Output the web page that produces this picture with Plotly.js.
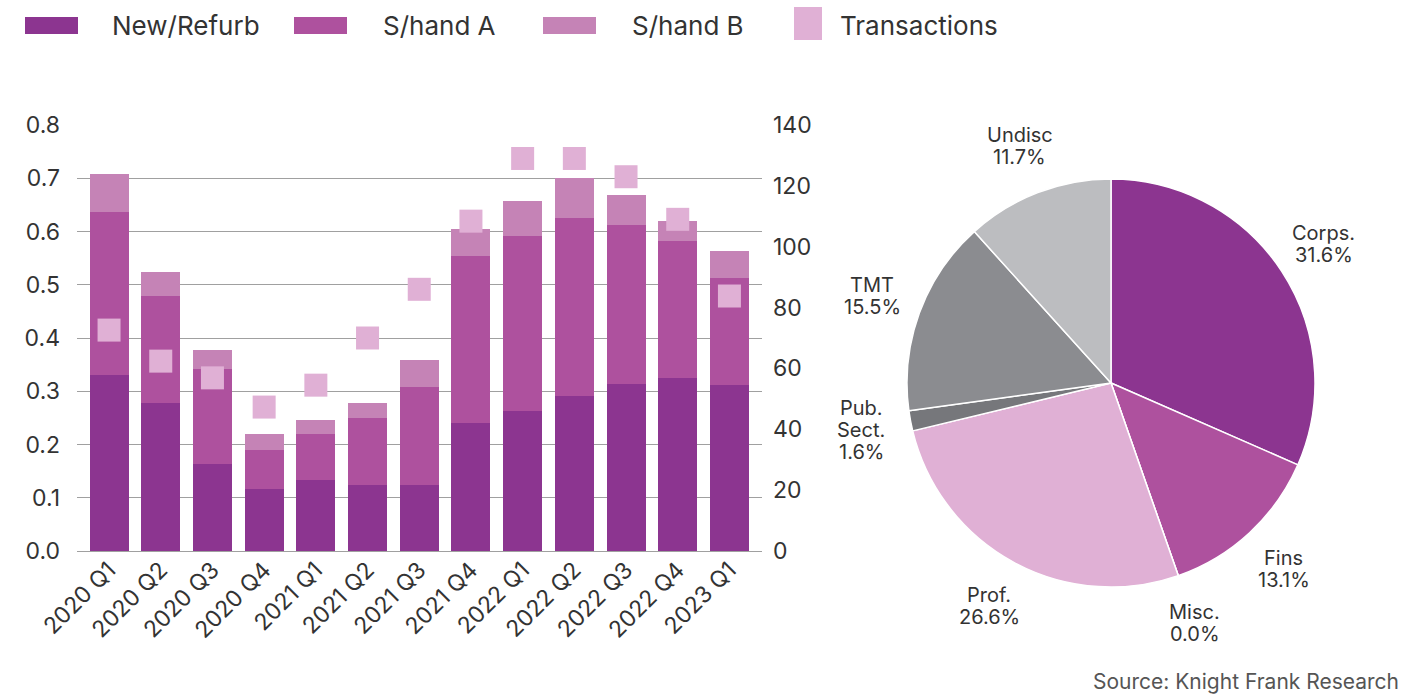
<!DOCTYPE html>
<html>
<head>
<meta charset="utf-8">
<script src="https://cdn.plot.ly/plotly-3.0.1.min.js"></script>
<style>html,body{margin:0;padding:0;background:#fff;}#chart{width:1426px;height:695px;}</style>
</head>
<body>
<div id="chart"></div>
<script>
// ---- data ----
const quarters = ["2020 Q1","2020 Q2","2020 Q3","2020 Q4","2021 Q1","2021 Q2","2021 Q3","2021 Q4","2022 Q1","2022 Q2","2022 Q3","2022 Q4","2023 Q1"];
const newRefurb = [0.331,0.278,0.163,0.116,0.133,0.124,0.124,0.240,0.263,0.291,0.314,0.325,0.312];
const shandA    = [0.306,0.201,0.179,0.074,0.087,0.126,0.184,0.314,0.329,0.334,0.298,0.257,0.201];
const shandB    = [0.071,0.045,0.035,0.030,0.026,0.028,0.051,0.051,0.065,0.075,0.057,0.038,0.050];
const transactions = [72.6,62.4,56.9,47.3,54.5,70,86,108.4,129,129,123,109,83.8];
const seriesNames = ["New/Refurb","S/hand A","S/hand B","Transactions"];

const sectors = ["Corps.","Fins","Misc.","Prof.","Pub.<br>Sect.","TMT","Undisc"];
const sectorShare = [31.6,13.1,0.0,26.6,1.6,15.5,11.7];

// ---- styles ----
const cNew = "#8c3590", cA = "#ae519e", cB = "#c583b6", cT = "#e0b0d5";
const seriesColors = [cNew, cA, cB, cT];
const sectorColors = ["#8c3590","#ae519e","#c583b6","#e0b0d5","#76777b","#8b8c90","#bcbdc0"];
const W = 1426, H = 695;
const font = "Inter, 'Noto Sans', sans-serif";
const txt = "#333333";

// pie geometry (pixels)
const pcx = 1111, pcy = 383, pr = 204, labR = 254, lineH = 22;

const traces = [
  {type:"bar", name:seriesNames[0], x:quarters, y:newRefurb, marker:{color:cNew, line:{width:0}}, xaxis:"x", yaxis:"y"},
  {type:"bar", name:seriesNames[1], x:quarters, y:shandA, marker:{color:cA, line:{width:0}}, xaxis:"x", yaxis:"y"},
  {type:"bar", name:seriesNames[2], x:quarters, y:shandB, marker:{color:cB, line:{width:0}}, xaxis:"x", yaxis:"y"},
  {type:"scatter", mode:"markers", name:seriesNames[3], x:quarters, y:transactions,
   marker:{symbol:"square", size:23, color:cT, line:{width:0}}, xaxis:"x", yaxis:"y2"},
  {type:"pie", labels:sectors, values:sectorShare, sort:false, direction:"clockwise", rotation:0,
   marker:{colors:sectorColors, line:{color:"#ffffff", width:1.5}}, textinfo:"none", hoverinfo:"label+percent",
   showlegend:false,
   domain:{x:[(pcx-pr)/W,(pcx+pr)/W], y:[(H-pcy-pr)/H,(H-pcy+pr)/H]}}
];

// pie labels positioned from data
const total = sectorShare.reduce((a,b)=>a+b,0);
const annotations = [];
const shapes = [];
let cum = 0;
sectorShare.forEach((v,i)=>{
  const mid = (cum + v/2)/total * 2*Math.PI;
  cum += v;
  const px = pcx + labR*Math.sin(mid);
  const py = pcy - labR*Math.cos(mid);
  const lines = sectors[i].split("<br>").concat([v.toFixed(1) + "%"]);
  lines.forEach((ln,k)=>{
    const ly = py + (k - (lines.length-1)/2)*lineH;
    annotations.push({xref:"paper", yref:"paper", x:px/W, y:1-ly/H, xanchor:"center", yanchor:"middle",
      text: ln, showarrow:false, align:"center", font:{family:font, size:20, color:txt}});
  });
});
annotations.push({xref:"paper", yref:"paper", x:1401/W, y:1-681/H, xanchor:"right", yanchor:"middle",
  text:"Source: Knight Frank Research", showarrow:false, font:{family:font, size:21, color:"#555555"}});

// legend (swatch boxes in pixels: x0,x1,y0,y1 ; text start x)
const legendBoxes = [[25,78,17,34],[294,347,17,34],[543,596,17,34],[794,822,7,40]];
const legendTextX = [110,381,630,838];
seriesNames.forEach((n,i)=>{
  const b = legendBoxes[i];
  shapes.push({type:"rect", xref:"paper", yref:"paper", x0:b[0]/W, x1:b[1]/W, y0:1-b[3]/H, y1:1-b[2]/H,
    fillcolor:seriesColors[i], line:{width:0}});
  annotations.push({xref:"paper", yref:"paper", x:legendTextX[i]/W, y:1-25/H, xanchor:"left", yanchor:"middle",
    text:n, showarrow:false, font:{family:font, size:26, color:txt}});
});

const layout = {
  width:W, height:H,
  margin:{l:0, r:0, t:0, b:0},
  paper_bgcolor:"#ffffff", plot_bgcolor:"#ffffff",
  font:{family:font, color:txt},
  barmode:"stack", bargap:0.245,
  showlegend:false,
  xaxis:{domain:[77/W, 762/W], type:"category", range:[-0.62,12.63], tickangle:-45,
         tickfont:{family:font, size:23, color:txt}, showgrid:false, zeroline:false, showline:false, ticks:""},
  yaxis:{domain:[(H-551)/H,(H-125)/H], range:[0,0.8], dtick:0.1, tickformat:".1f",
         showgrid:true, gridcolor:"#a0a0a0", gridwidth:1, zeroline:true, zerolinecolor:"#a0a0a0", zerolinewidth:1,
         tickfont:{family:font, size:23, color:txt}, ticks:"", ticklabelstandoff:16, showline:false},
  yaxis2:{overlaying:"y", side:"right", anchor:"x", range:[0,140], dtick:20, showgrid:false, zeroline:false,
          tickfont:{family:font, size:23, color:txt}, ticks:"", ticklabelstandoff:10, showline:false},
  shapes:shapes,
  annotations:annotations
};

Plotly.newPlot("chart", traces, layout, {displayModeBar:false, staticPlot:true});
</script>
</body>
</html>
